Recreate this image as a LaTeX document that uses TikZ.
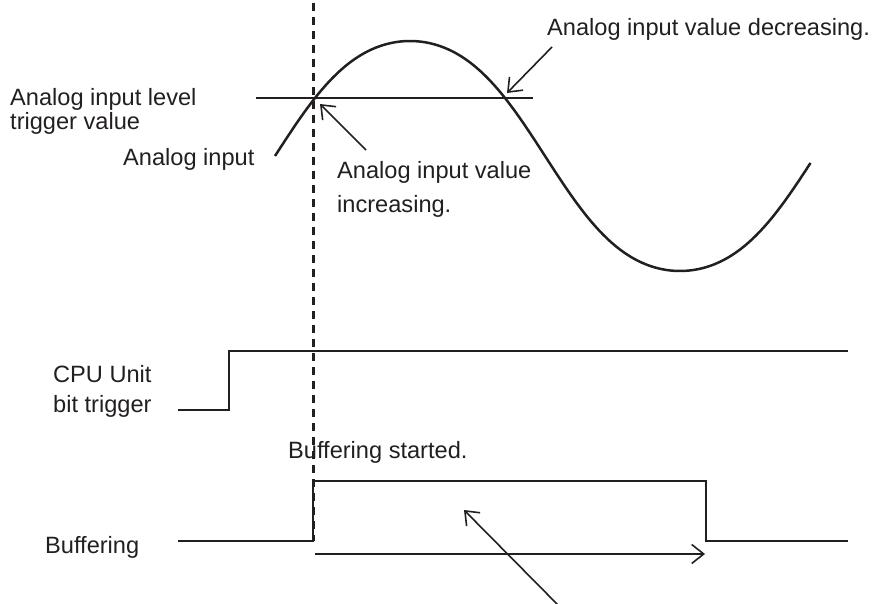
\documentclass[tikz,border=0pt]{standalone}
\usepackage{fontspec}
\setmainfont{Liberation Sans}
\usetikzlibrary{arrows.meta}

\definecolor{ink}{RGB}{35,31,32}

\tikzset{
    lbl/.style={anchor=base west, inner sep=0pt, align=left, text=ink,
        font=\fontsize{23.6}{24}\selectfont},
    signal/.style={draw=ink, line width=2.8pt},
    thin/.style={draw=ink, line width=1.6pt},
    pointer/.style={thin, -{Straight Barb[length=12pt,width=19pt,line width=1.6pt]}},
    marker/.style={draw=ink, line width=3pt, dash pattern=on 8pt off 6pt}
}

\begin{document}
\begin{tikzpicture}[x=1pt,y=-1pt]
        \useasboundingbox (0,0) rectangle (873,604);

        % points
        \coordinate (trig) at (313,98);
        \coordinate (dtop) at (313,3);
        \coordinate (dbot) at (313,541);
        \coordinate (lvlL) at (256,98);
        \coordinate (lvlR) at (533,98);
        \coordinate (incfrom) at (366,150);
        \coordinate (incto) at (320,104);
        \coordinate (decfrom) at (552,47);
        \coordinate (decto) at (507,93);
        \coordinate (durL) at (315,554);
        \coordinate (durR) at (705,554);
        \coordinate (bufnote) at (559,606);
        \coordinate (bufin) at (464,510);

        % labels (base = last line)
        \node[lbl] (lvltxt) at (10,130) {Analog input level\\trigger value};
        \node[lbl] (aintxt) at (123,166) {Analog input};
        \node[lbl] (inctxt) at (337,213) {Analog input value\\[10pt]increasing.};
        \node[lbl] (dectxt) at (547,36) {Analog input value decreasing.};
        \node[lbl] (cputxt) at (53,412) {CPU Unit\\[6pt]bit trigger};
        \node[lbl] (starttxt) at (288,458) {Buffering started.};
        \node[lbl] (buftxt) at (45,553) {Buffering};

        %% analog input and trigger level
        \draw[thin] (lvlL) -- (lvlR);
        \draw[signal, line width=2.5pt, line join=round]
            plot[domain=0:357, samples=150] ({275+1.5*\x},{156-115*sin(\x+4.5*sin(2*\x))});

        %% timing signals
        \draw[signal] (178,410) -- (229,410) -- (229,351) -- (848,351);
        \draw[signal] (178,541) -- (313,541) -- (313,481) -- (706,481)
            -- (706,541) -- (848,541);

        % trigger instant
        \draw[marker] (dtop) -- (dbot);

        %% arrows
        \draw[pointer] (incfrom) -- (incto);
        \draw[pointer] (decfrom) -- (decto);
        \draw[pointer] (durL) -- (durR);
        \draw[pointer] (bufnote) -- (bufin);
\end{tikzpicture}
\end{document}
